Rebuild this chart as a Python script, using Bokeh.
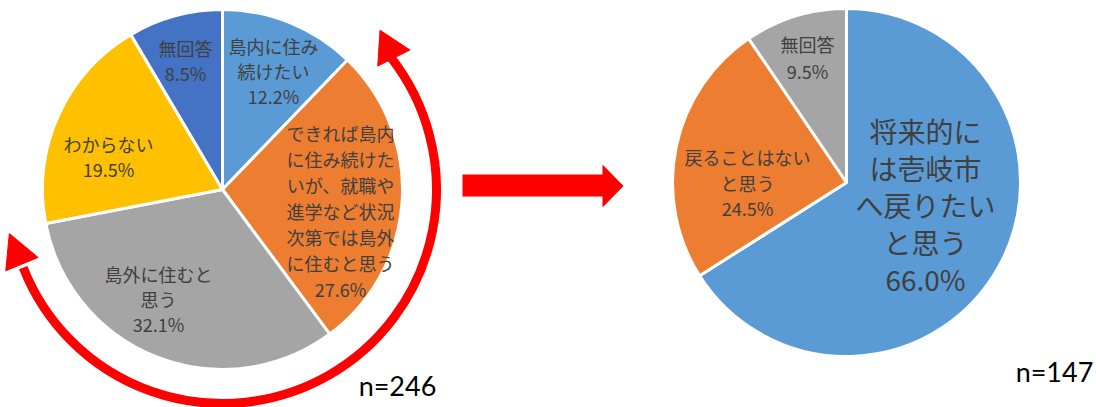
import math
from bokeh.plotting import figure
from bokeh.models import ColumnDataSource, Range1d
from bokeh.core.properties import value
from bokeh.embed import file_html
from bokeh.resources import INLINE

# ---------------- data ----------------
left_labels = ["島内に住み\n続けたい", "できれば島内\nに住み続けた\nいが、就職や\n進学など状況\n次第では島外\nに住むと思う",
               "島外に住むと\n思う", "わからない", "無回答"]
left_values = [12.2, 27.6, 32.1, 19.5, 8.5]
left_colors = ["#5B9BD5", "#ED7D31", "#A5A5A5", "#FFC000", "#4472C4"]
left_n = "n=246"

right_labels = ["将来的に\nは壱岐市\nへ戻りたい\nと思う", "戻ることはない\nと思う", "無回答"]
right_values = [66.0, 24.5, 9.5]
right_colors = ["#5B9BD5", "#ED7D31", "#A5A5A5"]
right_n = "n=147"

# ---------------- layout (screen pixels) ----------------
W, H = 1096, 407
def Y(ys):
    return H - ys

LEFT_C = (222, 189); LEFT_R = 180
RIGHT_C = (846, 182); RIGHT_R = 174
# label block centres (screen), line spacing, font size
left_lab_pos = [(273, 70, 25, "18px"), (340, 210, 26, "18px"), (158, 298, 25, "18px"),
                (108, 155.5, 25, "18px"), (185, 59.5, 25, "18px")]
right_lab_pos = [(925, 204, 37, "28px"), (747, 182, 25.5, "18px"), (807, 56.5, 27, "18px")]

TEXT_COL = "#404040"
FONT = "Noto Sans CJK JP"

p = figure(width=W, height=H, x_range=Range1d(0, W), y_range=Range1d(0, H),
           output_backend="svg", toolbar_location=None, min_border=0,
           x_axis_location=None, y_axis_location=None, outline_line_color=None)
p.grid.visible = False
p.background_fill_color = "white"
p.border_fill_color = "white"


def draw_pie(center, r, vals, colors, labels, lab_pos):
    total = sum(vals)
    starts, ends = [], []
    cum = 0.0
    for v in vals:
        t1 = cum / total * 360.0
        cum += v
        t2 = cum / total * 360.0
        starts.append(math.radians(90 - t2))
        ends.append(math.radians(90 - t1))
    src = ColumnDataSource(dict(x=[center[0]] * len(vals), y=[Y(center[1])] * len(vals),
                                s=starts, e=ends, c=colors))
    p.wedge(x="x", y="y", radius=r, start_angle="s", end_angle="e", direction="anticlock",
            fill_color="c", line_color="white", line_width=3, source=src)
    xs, ys, ts, fs = [], [], [], []
    for lab, v, (cx, cy, sp, fsz) in zip(labels, vals, lab_pos):
        lines = lab.split("\n") + [f"{v:.1f}%"]
        n = len(lines)
        for i, ln in enumerate(lines):
            xs.append(cx)
            ys.append(Y(cy + (i - (n - 1) / 2) * sp))
            ts.append(ln)
            fs.append(fsz)
    tsrc = ColumnDataSource(dict(x=xs, y=ys, t=ts, f=fs))
    p.text(x="x", y="y", text="t", source=tsrc, text_font=value(FONT), text_font_size="f",
           text_color=TEXT_COL, text_align="center", text_baseline="middle")


draw_pie(LEFT_C, LEFT_R, left_values, left_colors, left_labels, left_lab_pos)
draw_pie(RIGHT_C, RIGHT_R, right_values, right_colors, right_labels, right_lab_pos)

# ---------------- red circular double arrow around left pie ----------------
RED = "#FF0000"
ARC_R = 214
th_a, th_b = 52.0, 248.6   # clockwise-from-top angles of the two arrow bases
p.arc(x=LEFT_C[0], y=Y(LEFT_C[1]), radius=ARC_R,
      start_angle=math.radians(90 - th_a), end_angle=math.radians(90 - th_b),
      direction="clock", line_color=RED, line_width=9)


def head(theta_deg, sign, L, Wd, rot=0.0, rr=ARC_R):
    th = math.radians(theta_deg)
    bx = LEFT_C[0] + rr * math.sin(th)
    by = LEFT_C[1] - rr * math.cos(th)
    # clockwise tangent in screen coords, optionally rotated
    tx, ty = math.cos(th) * sign, math.sin(th) * sign
    a = math.radians(rot)
    tx, ty = tx * math.cos(a) - ty * math.sin(a), tx * math.sin(a) + ty * math.cos(a)
    nx, ny = -ty, tx
    tip = (bx + L * tx, by + L * ty)
    c1 = (bx + Wd / 2 * nx, by + Wd / 2 * ny)
    c2 = (bx - Wd / 2 * nx, by - Wd / 2 * ny)
    return [tip[0], c1[0], c2[0]], [Y(tip[1]), Y(c1[1]), Y(c2[1])]


hx1, hy1 = head(th_a + 0.5, -1, 31, 36, rot=11.0, rr=216)
hx2, hy2 = head(th_b + 1.0, 1, 33, 35, rot=-2.0)
p.patches(xs=[hx1, hx2], ys=[hy1, hy2], fill_color=RED, line_color=RED, line_width=1)

# ---------------- big right-pointing arrow ----------------
bx0, bx1, by0, by1 = 462, 602, 174, 196
hy0, hy1b, tipx = 164, 207, 623
ax = [bx0, bx1, bx1, tipx, bx1, bx1, bx0]
ay = [by0, by0, hy0, (hy0 + hy1b) / 2, hy1b, by1, by1]
p.patch(x=ax, y=[Y(v) for v in ay], fill_color=RED, line_color=None)

# ---------------- n labels ----------------
p.text(x=[397, 1054], y=[Y(385), Y(371)], text=[left_n, right_n], text_font=value("Lato"),
       text_font_size="27px", text_color="black", text_align="center", text_baseline="middle")

open("out.html", "w").write(file_html(p, INLINE))
